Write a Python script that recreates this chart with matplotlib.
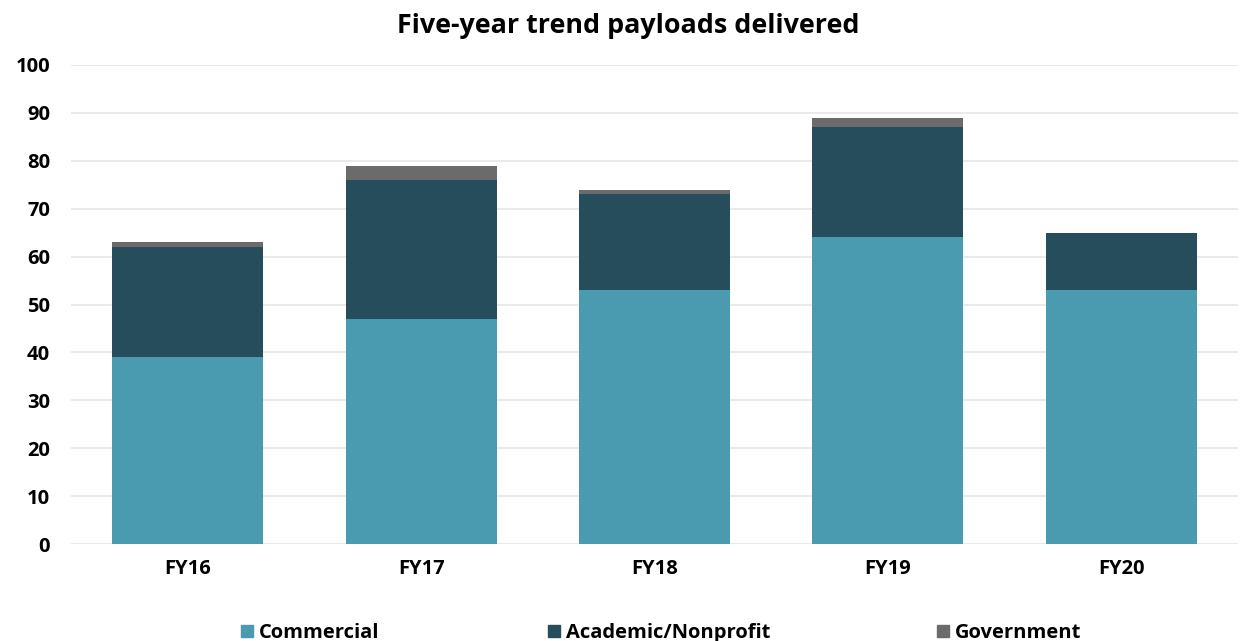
import matplotlib
matplotlib.use("Agg")
import matplotlib.pyplot as plt
import numpy as np
from matplotlib.patches import Patch

years = ["FY16", "FY17", "FY18", "FY19", "FY20"]
commercial = [39, 47, 53, 64, 53]
academic = [23, 29, 20, 23, 12]
government = [1, 3, 1, 2, 0]
series_names = ["Commercial", "Academic/Nonprofit", "Government"]
colors = ["#4A9BAF", "#254D5C", "#6B6B6B"]
yticks = list(range(0, 101, 10))

FONT = "Open Sans"
fig = plt.figure(figsize=(12.41, 6.41), dpi=100)
ax = fig.add_axes([71/1241, 1-544/641, (1238-71)/1241, (544-65)/641])

x = np.arange(len(years))
w = 0.647
bottom = np.zeros(len(years))
for vals, c in zip([commercial, academic, government], colors):
    ax.bar(x, vals, w, bottom=bottom, color=c, edgecolor="none", zorder=3)
    bottom += np.array(vals)

ax.set_xlim(-0.5, 4.5)
ax.set_ylim(0, 100)
ax.set_yticks(yticks)
ax.yaxis.grid(True, color="#E6E6E6", linewidth=1.2, zorder=0)
ax.set_axisbelow(True)
for s in ax.spines.values():
    s.set_visible(False)
ax.tick_params(axis="both", length=0)
ax.set_xticks(x)
ax.set_xticklabels(years)
for lab in ax.get_xticklabels() + ax.get_yticklabels():
    lab.set_fontsize(14.5); lab.set_fontweight("bold"); lab.set_family(FONT)
ax.tick_params(axis="x", pad=11)
ax.tick_params(axis="y", pad=15)

fig.text(628/1241, 1-26/641, "Five-year trend payloads delivered", ha="center", va="center",
         fontsize=19.4, fontweight="bold", family=FONT)

starts = [241, 548, 937]
for c, n, s in zip(colors, series_names, starts):
    fig.legend(handles=[Patch(color=c, label=n)], loc="center left",
               bbox_to_anchor=(s/1241, 1-633/641), frameon=False, borderaxespad=0, borderpad=0,
               prop={"family": FONT, "weight": "bold", "size": 14.5},
               handlelength=0.6, handleheight=0.6, handletextpad=0.3)

fig.savefig("out.png", dpi=100)
